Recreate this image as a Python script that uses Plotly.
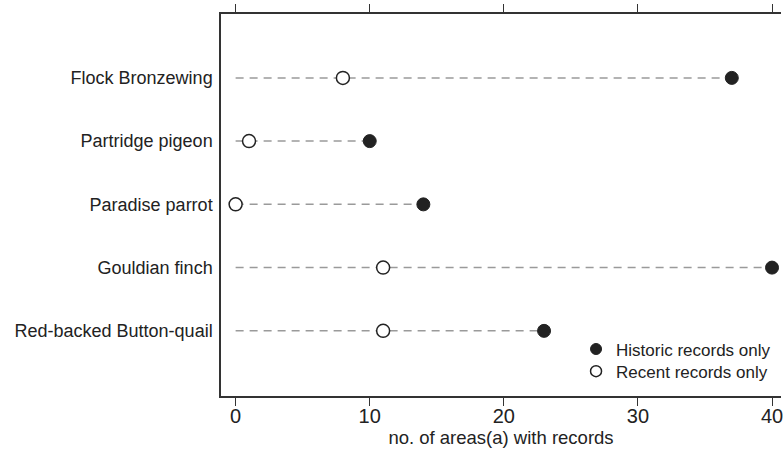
import plotly.graph_objects as go

species = ["Red-backed Button-quail", "Gouldian finch", "Paradise parrot",
           "Partridge pigeon", "Flock Bronzewing"]
historic = [23, 40, 14, 10, 37]
recent = [11, 11, 0, 1, 8]
x_ticks = [0, 10, 20, 30, 40]

FONT = "Liberation Sans"
fig = go.Figure()

# dashed guide lines from 0 to historic value
for s, h in zip(species, historic):
    fig.add_trace(go.Scatter(
        x=[0, h], y=[s, s], mode="lines",
        line=dict(color="#9a9a9a", width=1.5, dash="8px,6px"),
        showlegend=False, hoverinfo="skip"))

fig.add_trace(go.Scatter(
    x=recent, y=species, mode="markers", showlegend=False,
    marker=dict(size=13, color="white", line=dict(color="#222", width=1.5))))
fig.add_trace(go.Scatter(
    x=historic, y=species, mode="markers", showlegend=False,
    marker=dict(size=13, color="#222", line=dict(color="#222", width=1))))

# legend entries
fig.add_trace(go.Scatter(
    x=[None], y=[None], mode="markers", name="Historic records only", legend="legend",
    marker=dict(size=11, color="#222", line=dict(color="#222", width=1))))
fig.add_trace(go.Scatter(
    x=[None], y=[None], mode="markers", name="Recent records only", legend="legend2",
    marker=dict(size=11, color="white", line=dict(color="#222", width=1.5))))

leg_common = dict(xanchor="left", yanchor="top", bgcolor="rgba(0,0,0,0)",
                  font=dict(size=17, family=FONT, color="#222"), itemwidth=30)

fig.update_layout(
    width=783, height=453,
    margin=dict(l=221, r=0, t=14, b=57),
    paper_bgcolor="white", plot_bgcolor="white",
    font=dict(family=FONT, color="#222"),
    legend=dict(x=0.634, y=0.169, **leg_common),
    legend2=dict(x=0.634, y=0.111, **leg_common),
    xaxis=dict(range=[-1.09, 40.67], tickvals=x_ticks, ticktext=[str(v) for v in x_ticks],
               showgrid=False, zeroline=False, showline=True, linecolor="#333", linewidth=1.5,
               mirror="ticks", ticks="outside", ticklen=8, tickwidth=1.2, tickcolor="#333",
               ticklabeloverflow="allow", ticklabelstandoff=-7,
               tickfont=dict(size=20, family=FONT, color="#222"),
               title=dict(text="no. of areas(a) with records", standoff=0,
                          font=dict(size=18.5, family=FONT, color="#222"))),
    yaxis=dict(type="category", categoryorder="array", categoryarray=species,
               range=[-1.03, 5.01], showgrid=False, zeroline=False,
               showline=True, linecolor="#333", linewidth=1.5, mirror=False,
               ticks="", ticklabelstandoff=3,
               tickfont=dict(size=18, family=FONT, color="#222")),
)

fig.write_html("out.html")
